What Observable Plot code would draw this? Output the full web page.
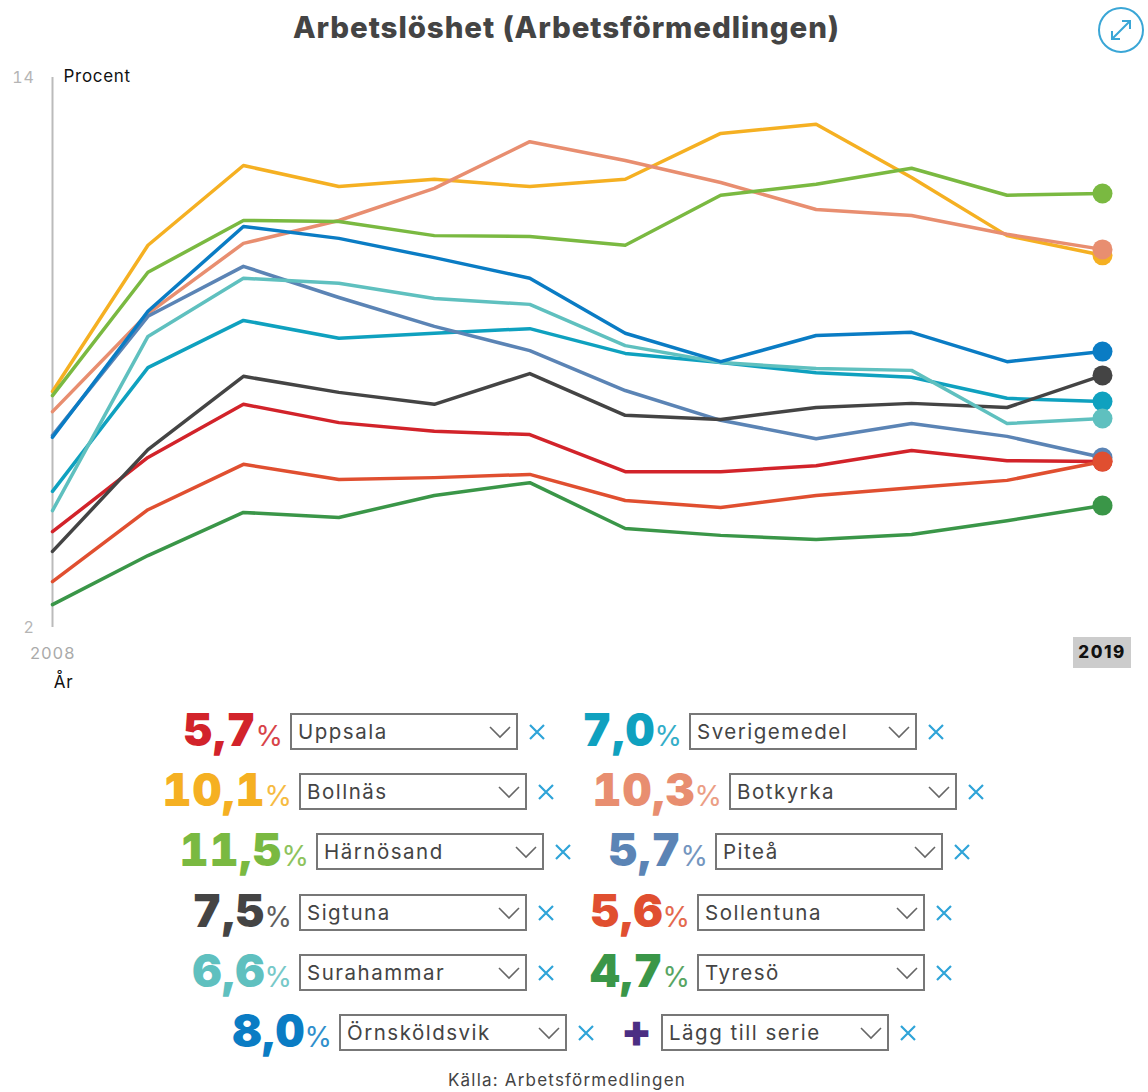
<!DOCTYPE html>
<html lang="sv">
<head>
<meta charset="utf-8">
<script src="https://cdn.jsdelivr.net/npm/d3@7"></script>
<script src="https://cdn.jsdelivr.net/npm/@observablehq/plot@0.6"></script>
<style>
html,body{margin:0;padding:0;background:#fff;overflow:hidden}
#page{position:relative;width:1148px;height:1092px;font-family:Inter,sans-serif;color:#444}
#title{position:absolute;left:0;top:8px;width:1133px;text-align:center;font:800 29.5px/38px Inter,sans-serif;color:#444;letter-spacing:.9px}
#chart{position:absolute;left:0;top:60px}
#icon{position:absolute;left:1097px;top:6px}
#last{position:absolute;left:1073px;top:637px;width:58px;height:31px;background:#ccc;text-align:center;font:800 17px/31px Inter,sans-serif;color:#111;letter-spacing:1.5px}
.val{position:absolute;text-align:right;white-space:nowrap;line-height:48px;font-family:Inter,sans-serif;font-variant-numeric:tabular-nums}
.val b{font-weight:900;font-size:45px;letter-spacing:1px}
.val i{font-style:normal;font-weight:400;font-size:28px;margin-left:-1px;opacity:.85}
.sel{position:absolute;box-sizing:border-box;width:228px;height:37px;border:2px solid #777;background:#fff;font:400 20.5px/34px Inter,sans-serif;color:#444;padding-left:6px;letter-spacing:1.5px}
.sel svg{position:absolute;right:4px;top:10px}
.x{position:absolute;width:18px;height:18px}
#src{position:absolute;left:0;top:1069px;width:1134px;text-align:center;font:400 17px/22px Inter,sans-serif;color:#444;letter-spacing:1.2px}
</style>
</head>
<body>
<div id="page">
  <div id="title">Arbetslöshet (Arbetsförmedlingen)</div>
  <svg id="icon" width="48" height="48" viewBox="0 0 48 48" fill="none" stroke="#3aa6d6" stroke-width="2">
    <circle cx="24" cy="24" r="22"/>
    <path d="M15 33L33 15M25 15H33V23M15 25V33H23"/>
  </svg>
  <div id="chart"></div>
  <div id="last">2019</div>
  <div id="legend"></div>
  <div id="src">Källa: Arbetsförmedlingen</div>
</div>
<script>
const years = [2008,2009,2010,2011,2012,2013,2014,2015,2016,2017,2018,2019];

const uppsala      = [4.09,5.71,6.87,6.47,6.28,6.21,5.40,5.40,5.53,5.86,5.64,5.62];
const sverigemedel = [4.97,7.67,8.70,8.31,8.42,8.52,7.98,7.78,7.56,7.46,7.00,6.93];
const bollnas      = [7.15,10.34,12.08,11.62,11.78,11.62,11.78,12.78,12.98,11.82,10.55,10.12];
const botkyrka     = [6.71,8.85,10.38,10.88,11.58,12.60,12.19,11.71,11.12,10.99,10.58,10.25];
const harnosand    = [7.06,9.75,10.88,10.86,10.55,10.53,10.34,11.43,11.67,12.02,11.43,11.47];
const pitea        = [6.19,8.79,9.88,9.20,8.57,8.04,7.17,6.52,6.12,6.45,6.17,5.71];
const sigtuna      = [3.66,5.88,7.48,7.13,6.87,7.54,6.63,6.54,6.80,6.89,6.80,7.50];
const sollentuna   = [3.00,4.57,5.56,5.23,5.27,5.34,4.77,4.62,4.88,5.05,5.21,5.62];
const surahammar   = [4.55,8.35,9.62,9.51,9.18,9.05,8.15,7.78,7.65,7.61,6.45,6.56];
const tyreso       = [2.50,3.57,4.51,4.40,4.88,5.16,4.16,4.01,3.92,4.03,4.33,4.66];
const ornskoldsvik = [6.15,8.90,10.75,10.49,10.07,9.62,8.42,7.80,8.37,8.44,7.80,8.02];

const names  = ["Uppsala","Sverigemedel","Bollnäs","Botkyrka","Härnösand","Piteå","Sigtuna","Sollentuna","Surahammar","Tyresö","Örnsköldsvik"];
const labels = ["5,7","7,0","10,1","10,3","11,5","5,7","7,5","5,6","6,6","4,7","8,0"];
const series = [uppsala,sverigemedel,bollnas,botkyrka,harnosand,pitea,sigtuna,sollentuna,surahammar,tyreso,ornskoldsvik];
const colors = ["#d2232a","#0fa1bf","#f5b022","#e88e70","#7ab941","#5b84b5","#444444","#e04f30","#5fc0bf","#3a9648","#0a7cc4"];

const rows = names.flatMap((name,i)=>series[i].map((v,j)=>({name,year:years[j],value:v})));
const lastRows = rows.filter(d=>d.year===2019);

const plot = Plot.plot({
  width:1148, height:640,
  marginTop:17, marginBottom:73, marginLeft:52, marginRight:46,
  style:{background:"transparent",fontFamily:"Inter,sans-serif",fontSize:"16px",letterSpacing:".7px"},
  x:{domain:[2008,2019]},
  y:{domain:[2,14]},
  color:{domain:names,range:colors},
  marks:[
    Plot.ruleX([2008],{stroke:"#bbb",strokeWidth:2}),
    Plot.axisY({ticks:[2,14],tickSize:0,tickPadding:18,label:null,color:"#b5b5b5",fontSize:16}),
    Plot.axisX({ticks:[2008],tickSize:0,tickPadding:20,label:null,color:"#aaa",tickFormat:d3.format("d"),fontSize:16.5}),
    Plot.line(rows,{x:"year",y:"value",z:"name",stroke:"name",strokeWidth:3.5,curve:"linear"}),
    Plot.dot(lastRows,{x:"year",y:"value",fill:"name",r:10}),
    Plot.text(["Procent"],{frameAnchor:"top-left",dx:11,dy:-1,text:d=>d,fill:"#111",fontSize:17,textAnchor:"start",lineAnchor:"middle"}),
    Plot.text(["År"],{frameAnchor:"bottom-left",dx:11,dy:55,text:d=>d,fill:"#111",fontSize:17,textAnchor:"middle",lineAnchor:"middle"})
  ]
});
document.getElementById("chart").appendChild(plot);

// Legend rows: vertical centre of each row, left edge of each select, index into names (-1 = add series)
const rowCentre = [732,792,852,913,973,1033];
const rowItems = [
  [[290,0],[689,1]],
  [[299,2],[729,3]],
  [[316,4],[715,5]],
  [[299,6],[697,7]],
  [[299,8],[697,9]],
  [[339,10],[661,-1]]
];
const chevron = '<svg width="24" height="14" viewBox="0 0 24 14" fill="none" stroke="#666" stroke-width="1.6"><path d="M2 2L12 12L22 2"/></svg>';
const cross = '<svg class="x" viewBox="0 0 18 18" fill="none" stroke="#2fa4d8" stroke-width="2.2"><path d="M2 2L16 16M16 2L2 16"/></svg>';
const legend = document.getElementById("legend");
rowItems.forEach((items,r)=>items.forEach(([left,idx])=>{
  const cy = rowCentre[r];
  const sel = document.createElement("div");
  sel.className="sel";
  sel.style.left=left+"px"; sel.style.top=(cy-19)+"px";
  sel.innerHTML=(idx<0?"Lägg till serie":names[idx])+chevron;
  legend.appendChild(sel);
  const xw=document.createElement("div");
  xw.innerHTML=cross;
  const xs=xw.firstChild;
  xs.style.left=(left+238)+"px"; xs.style.top=(cy-9)+"px";
  legend.appendChild(xs);
  const val=document.createElement("div");
  val.className="val";
  val.style.right=(1148-left+7)+"px";
  val.style.top=(cy-26)+"px";
  if(idx<0){
    val.innerHTML='<b style="color:#4b2e83">+</b>';
    val.style.right=(1148-left+9)+"px";
  } else {
    val.innerHTML='<b style="color:'+colors[idx]+'">'+labels[idx]+'</b><i style="color:'+colors[idx]+'">%</i>';
  }
  legend.appendChild(val);
}));
</script>
</body>
</html>
